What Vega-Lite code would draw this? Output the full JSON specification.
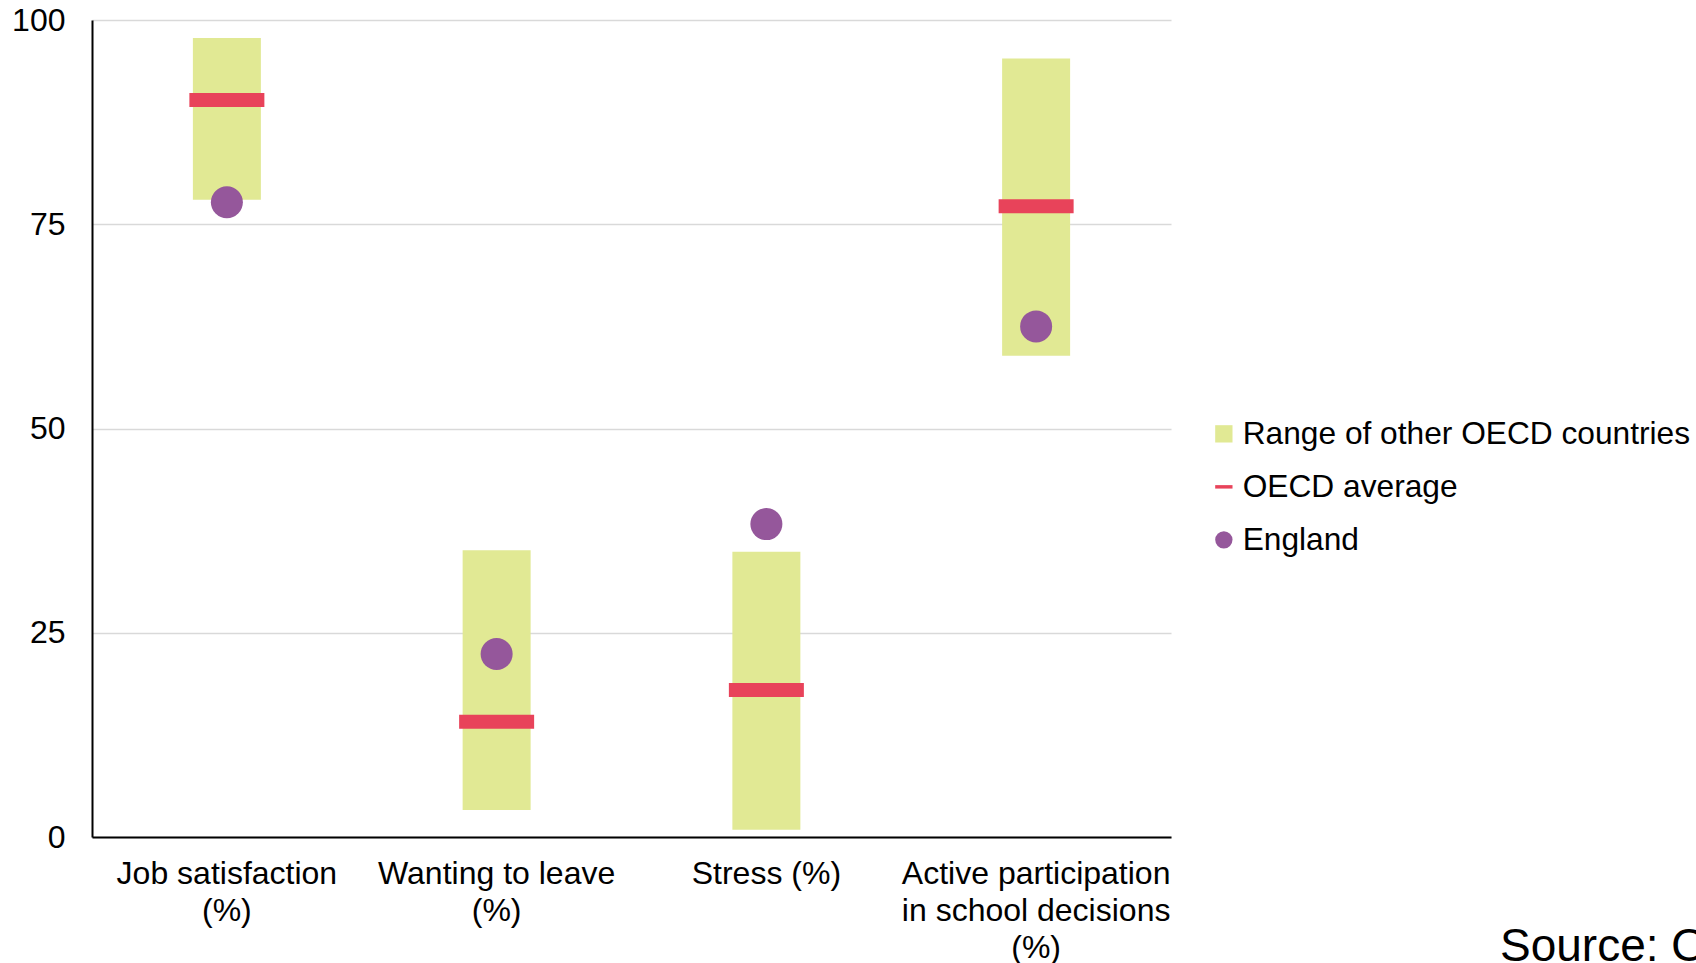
{
  "$schema": "https://vega.github.io/schema/vega-lite/v6.json",
  "width": 1079,
  "height": 817,
  "autosize": {"type": "none"},
  "padding": {"left": 92, "top": 20, "right": 525, "bottom": 126},
  "background": "white",
  "config": {
    "view": {"stroke": null},
    "font": "Liberation Sans",
    "axis": {"labelFont": "Liberation Sans", "labelColor": "#000000", "ticks": false, "domainColor": "#000000", "domainWidth": 2, "title": null, "labelLimit": 0},
    "legend": {"labelFont": "Liberation Sans", "labelLimit": 0}
  },
  "title": {
    "text": "Source: OECD TALIS 2018",
    "orient": "bottom",
    "anchor": "start",
    "frame": "group",
    "dx": 1408,
    "dy": -2,
    "offset": 0,
    "baseline": "alphabetic",
    "fontSize": 46,
    "fontWeight": "normal",
    "font": "Liberation Sans",
    "color": "#000000"
  },
  "data": {
    "values": [
      {"cat": "Job satisfaction (%)", "series": "Range of other OECD countries", "lo": 78.0, "hi": 97.8},
      {"cat": "Job satisfaction (%)", "series": "OECD average", "value": 90.2},
      {"cat": "Job satisfaction (%)", "series": "England", "value": 77.7},
      {"cat": "Wanting to leave (%)", "series": "Range of other OECD countries", "lo": 3.3, "hi": 35.1},
      {"cat": "Wanting to leave (%)", "series": "OECD average", "value": 14.1},
      {"cat": "Wanting to leave (%)", "series": "England", "value": 22.4},
      {"cat": "Stress (%)", "series": "Range of other OECD countries", "lo": 0.9, "hi": 34.9},
      {"cat": "Stress (%)", "series": "OECD average", "value": 18.0},
      {"cat": "Stress (%)", "series": "England", "value": 38.3},
      {"cat": "Active participation in school decisions (%)", "series": "Range of other OECD countries", "lo": 58.9, "hi": 95.3},
      {"cat": "Active participation in school decisions (%)", "series": "OECD average", "value": 77.2},
      {"cat": "Active participation in school decisions (%)", "series": "England", "value": 62.5}
    ]
  },
  "encoding": {
    "x": {
      "field": "cat",
      "type": "nominal",
      "sort": null,
      "scale": {"paddingInner": 0, "paddingOuter": 0},
      "axis": {
        "labelAngle": 0,
        "labelFontSize": 32,
        "labelLineHeight": 37,
        "labelPadding": 21,
        "labelBaseline": "top",
        "grid": false,
        "labelExpr": "datum.value == 'Job satisfaction (%)' ? ['Job satisfaction', '(%)'] : datum.value == 'Wanting to leave (%)' ? ['Wanting to leave', '(%)'] : datum.value == 'Active participation in school decisions (%)' ? ['Active participation', 'in school decisions', '(%)'] : datum.value"
      }
    }
  },
  "layer": [
    {
      "transform": [{"filter": "datum.series == 'Range of other OECD countries'"}],
      "mark": {"type": "bar", "size": 68},
      "encoding": {
        "y": {
          "field": "lo",
          "type": "quantitative",
          "scale": {"domain": [0, 100], "nice": false},
          "axis": {"values": [0, 25, 50, 75, 100], "labelFontSize": 32, "labelPadding": 27, "grid": true, "gridColor": "#D9D9D9", "gridWidth": 1.3}
        },
        "y2": {"field": "hi"},
        "color": {
          "field": "series",
          "type": "nominal",
          "scale": {"domain": ["Range of other OECD countries", "OECD average", "England"], "range": ["#E1E994", "#E8435A", "#95579B"]},
          "legend": {
            "title": null,
            "orient": "none",
            "legendX": 1116,
            "legendY": 398,
            "padding": 0,
            "labelFontSize": 31.7,
            "labelColor": "#000000",
            "labelOffset": 3,
            "rowPadding": 20,
            "symbolSize": 300
          }
        }
      }
    },
    {
      "transform": [{"filter": "datum.series == 'OECD average'"}],
      "mark": {"type": "tick", "size": 75, "thickness": 14, "opacity": 1, "orient": "horizontal"},
      "encoding": {
        "y": {"field": "value", "type": "quantitative"},
        "color": {"field": "series", "type": "nominal"}
      }
    },
    {
      "transform": [{"filter": "datum.series == 'England'"}],
      "mark": {"type": "point", "filled": true, "size": 1024, "opacity": 1},
      "encoding": {
        "y": {"field": "value", "type": "quantitative"},
        "color": {"field": "series", "type": "nominal"},
        "shape": {
          "field": "series",
          "type": "nominal",
          "scale": {"domain": ["Range of other OECD countries", "OECD average", "England"], "range": ["square", "M-1,-0.2H1V0.2H-1Z", "circle"]}
        }
      }
    }
  ]
}
